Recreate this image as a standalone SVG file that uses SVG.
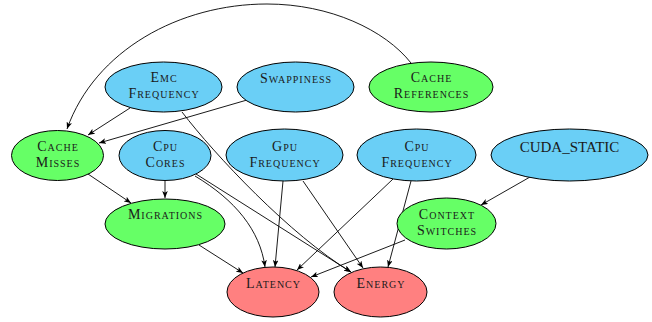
<svg xmlns="http://www.w3.org/2000/svg" width="652" height="322" viewBox="0 0 652 322">
  <defs>
    <marker id="arrow" viewBox="0 0 10 8" refX="10" refY="4" markerWidth="7" markerHeight="5.6" markerUnits="userSpaceOnUse" orient="auto">
      <path d="M0,0 L10,4 L0,8 L2.5,4 Z" fill="#000"/>
    </marker>
    <style>
      .node ellipse { stroke: #000; stroke-width: 1; }
      .input ellipse { fill: #6ACFF6; }
      .counter ellipse { fill: #66FF66; }
      .output ellipse { fill: #FF8080; }
      .node text { font-family: "Liberation Serif", "DejaVu Serif", serif; font-size: 14px; font-variant: small-caps; letter-spacing: 1px; text-anchor: middle; fill: #1a1a1a; }
      .node text.plain { font-variant: normal; font-size: 15px; letter-spacing: 0; }
      .edges path { fill: none; stroke: #000; stroke-width: 0.9; marker-end: url(#arrow); }
    </style>
  </defs>
  <rect width="652" height="322" fill="#fff"/>

  <g class="edges" id="connectors">
    <path d="M411,63 C385,30 330,4 267,4 C180,4 95,50 67,129"/>
    <path d="M130,108 L88,135"/>
    <path d="M247,100 L99,143"/>
    <path d="M182,112 C215,155 290,235 351,272"/>
    <path d="M165,181 L165,198"/>
    <path d="M88,174 L131,203"/>
    <path d="M199,245 L243,273"/>
    <path d="M195,176 C235,200 260,230 265,267"/>
    <path d="M196,174 L351,272"/>
    <path d="M283,181 L275,267"/>
    <path d="M303,181 L363,268"/>
    <path d="M393,179 L297,270"/>
    <path d="M411,181 L388,267"/>
    <path d="M405,240 L311,277"/>
    <path d="M530,177 L481,205"/>
  </g>

  <g id="emc-frequency" class="node input">
    <ellipse cx="163.5" cy="87" rx="58.5" ry="25"/>
    <text x="164" y="82">Emc</text>
    <text x="164" y="98">Frequency</text>
  </g>
  <g id="swappiness" class="node input">
    <ellipse cx="295.5" cy="87" rx="58.5" ry="25"/>
    <text x="296" y="82.5">Swappiness</text>
  </g>
  <g id="cache-references" class="node counter">
    <ellipse cx="431" cy="87" rx="62" ry="25"/>
    <text x="431.5" y="82">Cache</text>
    <text x="431.5" y="98">References</text>
  </g>
  <g id="cache-misses" class="node counter">
    <ellipse cx="57.5" cy="155.5" rx="46" ry="25"/>
    <text x="58" y="150.5">Cache</text>
    <text x="58" y="166.5">Misses</text>
  </g>
  <g id="cpu-cores" class="node input">
    <ellipse cx="165" cy="155.5" rx="46" ry="25"/>
    <text x="165.5" y="150.5">Cpu</text>
    <text x="165.5" y="166.5">Cores</text>
  </g>
  <g id="gpu-frequency" class="node input">
    <ellipse cx="284.5" cy="155" rx="58.5" ry="26"/>
    <text x="285" y="150.5">Gpu</text>
    <text x="285" y="166.5">Frequency</text>
  </g>
  <g id="cpu-frequency" class="node input">
    <ellipse cx="416.5" cy="155" rx="59.5" ry="26"/>
    <text x="417" y="150.5">Cpu</text>
    <text x="417" y="166.5">Frequency</text>
  </g>
  <g id="cuda-static" class="node input">
    <ellipse cx="569.5" cy="155" rx="78.5" ry="26"/>
    <text class="plain" x="569.5" y="151.5">CUDA_STATIC</text>
  </g>
  <g id="migrations" class="node counter">
    <ellipse cx="165" cy="224" rx="60" ry="25"/>
    <text x="165.5" y="219">Migrations</text>
  </g>
  <g id="context-switches" class="node counter">
    <ellipse cx="446.5" cy="223.5" rx="49.5" ry="25.5"/>
    <text x="447" y="218.5">Context</text>
    <text x="447" y="234.5">Switches</text>
  </g>
  <g id="latency" class="node output">
    <ellipse cx="273" cy="292" rx="46" ry="25"/>
    <text x="273.5" y="288">Latency</text>
  </g>
  <g id="energy" class="node output">
    <ellipse cx="380.5" cy="292" rx="46.5" ry="25"/>
    <text x="381" y="288">Energy</text>
  </g>
</svg>
